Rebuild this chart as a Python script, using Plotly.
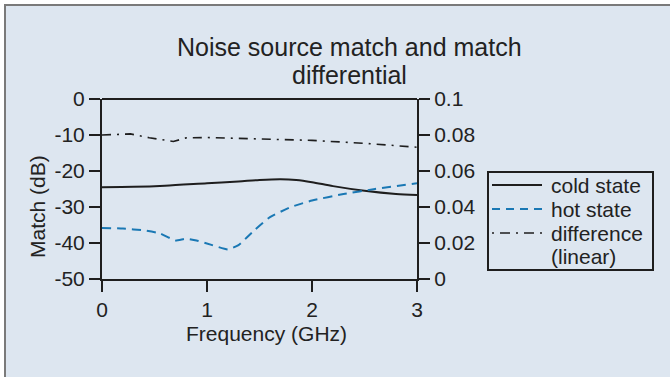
import plotly.graph_objects as go

# Frequency grid (GHz) and measured match values
freq_cold = [0.0, 0.3, 0.6, 1.0, 1.3, 1.5, 1.7, 1.85, 2.0, 2.2, 2.5, 2.8, 3.0]
cold_db = [-24.5, -24.4, -24.1, -23.4, -22.9, -22.5, -22.3, -22.5, -23.1, -24.2, -25.5, -26.4, -26.7]

freq_hot = [0.0, 0.2, 0.4, 0.55, 0.7, 0.8, 0.9, 1.05, 1.2, 1.3, 1.45, 1.6, 1.8, 2.0, 2.3, 2.6, 3.0]
hot_db = [-35.8, -36.0, -36.5, -37.3, -39.3, -38.8, -39.3, -40.6, -41.8, -40.6, -36.5, -32.8, -30.0, -28.2, -26.4, -25.0, -23.4]

freq_diff = [0.0, 0.27, 0.45, 0.68, 0.8, 1.0, 1.5, 2.0, 2.5, 3.0]
diff_lin = [0.0800, 0.0806, 0.0785, 0.0764, 0.0784, 0.0786, 0.0778, 0.0770, 0.0754, 0.0732]

left_ticks = [0, -10, -20, -30, -40, -50]
left_labels = ["0", "-10", "-20", "-30", "-40", "-50"]
right_ticks = [0, 0.02, 0.04, 0.06, 0.08, 0.1]
right_labels = ["0", "0.02", "0.04", "0.06", "0.08", "0.1"]
x_ticks = [0, 1, 2, 3]

title_lines = ["Noise source match and match", "differential"]
series_names = ["cold state", "hot state", "difference (linear)"]
key_labels = [["cold state"], ["hot state"], ["difference", "(linear)"]]

FONT = "Liberation Sans, Arial, sans-serif"
BG = "#dde6f0"
AX = "#1e1e1e"
TXT = "#222222"
BLUE = "#1a78b4"

# line styles per series: (colour, width, dash used on the plot, dash used in the key)
styles = [
    (AX, 2, "solid", "solid"),
    (BLUE, 2, "9px,6px", "8px,6px"),
    (AX, 1.6, "9px,6px,2px,6px", "2px,6px,10px,6px"),
]

# plot-area geometry in pixels, used to place items in paper units
L, R, T, B = 102, 417, 99, 279
px_x = lambda p: (p - L) / (R - L)
px_y = lambda q: (B - q) / (B - T)

fig = go.Figure()
fig.add_trace(go.Scatter(
    x=freq_cold, y=cold_db, name=series_names[0], mode="lines",
    line=dict(color=styles[0][0], width=styles[0][1], dash=styles[0][2], shape="spline", smoothing=0.8),
))
fig.add_trace(go.Scatter(
    x=freq_hot, y=hot_db, name=series_names[1], mode="lines",
    line=dict(color=styles[1][0], width=styles[1][1], dash=styles[1][2], shape="spline", smoothing=0.4),
))
fig.add_trace(go.Scatter(
    x=freq_diff, y=diff_lin, name=series_names[2], mode="lines", yaxis="y2",
    line=dict(color=styles[2][0], width=styles[2][1], dash=styles[2][2]),
))

axis_common = dict(
    showgrid=False, zeroline=False, showline=True, linecolor=AX, linewidth=2,
    ticks="outside", ticklen=11, tickwidth=2, tickcolor=AX,
    tickfont=dict(family=FONT, size=21, color=TXT),
)

fig.update_layout(
    width=670, height=377,
    paper_bgcolor=BG, plot_bgcolor=BG,
    margin=dict(l=L, r=670 - R, t=T, b=377 - B),
    font=dict(family=FONT, color=TXT),
    xaxis=dict(range=[0, 3], tickvals=x_ticks, **axis_common),
    yaxis=dict(range=[-50, 0], tickvals=left_ticks, ticktext=left_labels, **axis_common),
    yaxis2=dict(
        range=[0, 0.1], tickvals=right_ticks, ticktext=right_labels,
        overlaying="y", side="right", anchor="x",
        **axis_common,
    ),
    showlegend=False,
)

# chart title, two centred lines
for text, yc in zip(title_lines, [47, 75]):
    fig.add_annotation(text=text, xref="paper", yref="paper", x=px_x(349), y=px_y(yc),
                       xanchor="center", yanchor="middle", showarrow=False,
                       font=dict(family=FONT, size=25, color=TXT))

# axis titles
fig.add_annotation(text="Frequency (GHz)", xref="paper", yref="paper", x=px_x(266), y=px_y(333),
                   xanchor="center", yanchor="middle", showarrow=False,
                   font=dict(family=FONT, size=21, color=TXT))
fig.add_annotation(text="Match (dB)", xref="paper", yref="paper", x=px_x(37), y=px_y(207),
                   xanchor="center", yanchor="middle", showarrow=False, textangle=-90,
                   font=dict(family=FONT, size=21, color=TXT))

# key box with a line sample and label per series
fig.add_shape(type="rect", xref="paper", yref="paper", x0=px_x(488), x1=px_x(653), y0=px_y(172), y1=px_y(270),
              line=dict(color=AX, width=2), fillcolor=BG)
key_rows = [185, 209, 233]
row_step = 23
for labels, (color, width, _, key_dash), yc in zip(key_labels, styles, key_rows):
    fig.add_shape(type="line", xref="paper", yref="paper", x0=px_x(492), x1=px_x(542), y0=px_y(yc), y1=px_y(yc),
                  line=dict(color=color, width=width, dash=key_dash))
    for i, text in enumerate(labels):
        fig.add_annotation(text=text, xref="paper", yref="paper", x=px_x(549), y=px_y(yc + i * row_step),
                           xanchor="left", yanchor="middle", align="left", showarrow=False,
                           font=dict(family=FONT, size=21, color=TXT))

# top edge of the plot frame
fig.add_shape(type="line", xref="paper", yref="paper", x0=0, x1=1, y0=1, y1=1,
              line=dict(color=AX, width=2))

# panel border along the top and left edges
fig.add_shape(type="rect", xref="paper", yref="paper", x0=px_x(0), x1=px_x(670), y0=px_y(0), y1=px_y(4),
              line=dict(width=0), fillcolor="white", layer="below")
fig.add_shape(type="rect", xref="paper", yref="paper", x0=px_x(0), x1=px_x(4), y0=px_y(0), y1=px_y(377),
              line=dict(width=0), fillcolor="white", layer="below")
fig.add_shape(type="line", xref="paper", yref="paper", x0=px_x(4), x1=px_x(670), y0=px_y(5), y1=px_y(5),
              line=dict(color="#7a7a7a", width=2))
fig.add_shape(type="line", xref="paper", yref="paper", x0=px_x(5), x1=px_x(5), y0=px_y(4), y1=px_y(377),
              line=dict(color="#7a7a7a", width=2))

fig.write_html("out.html")
